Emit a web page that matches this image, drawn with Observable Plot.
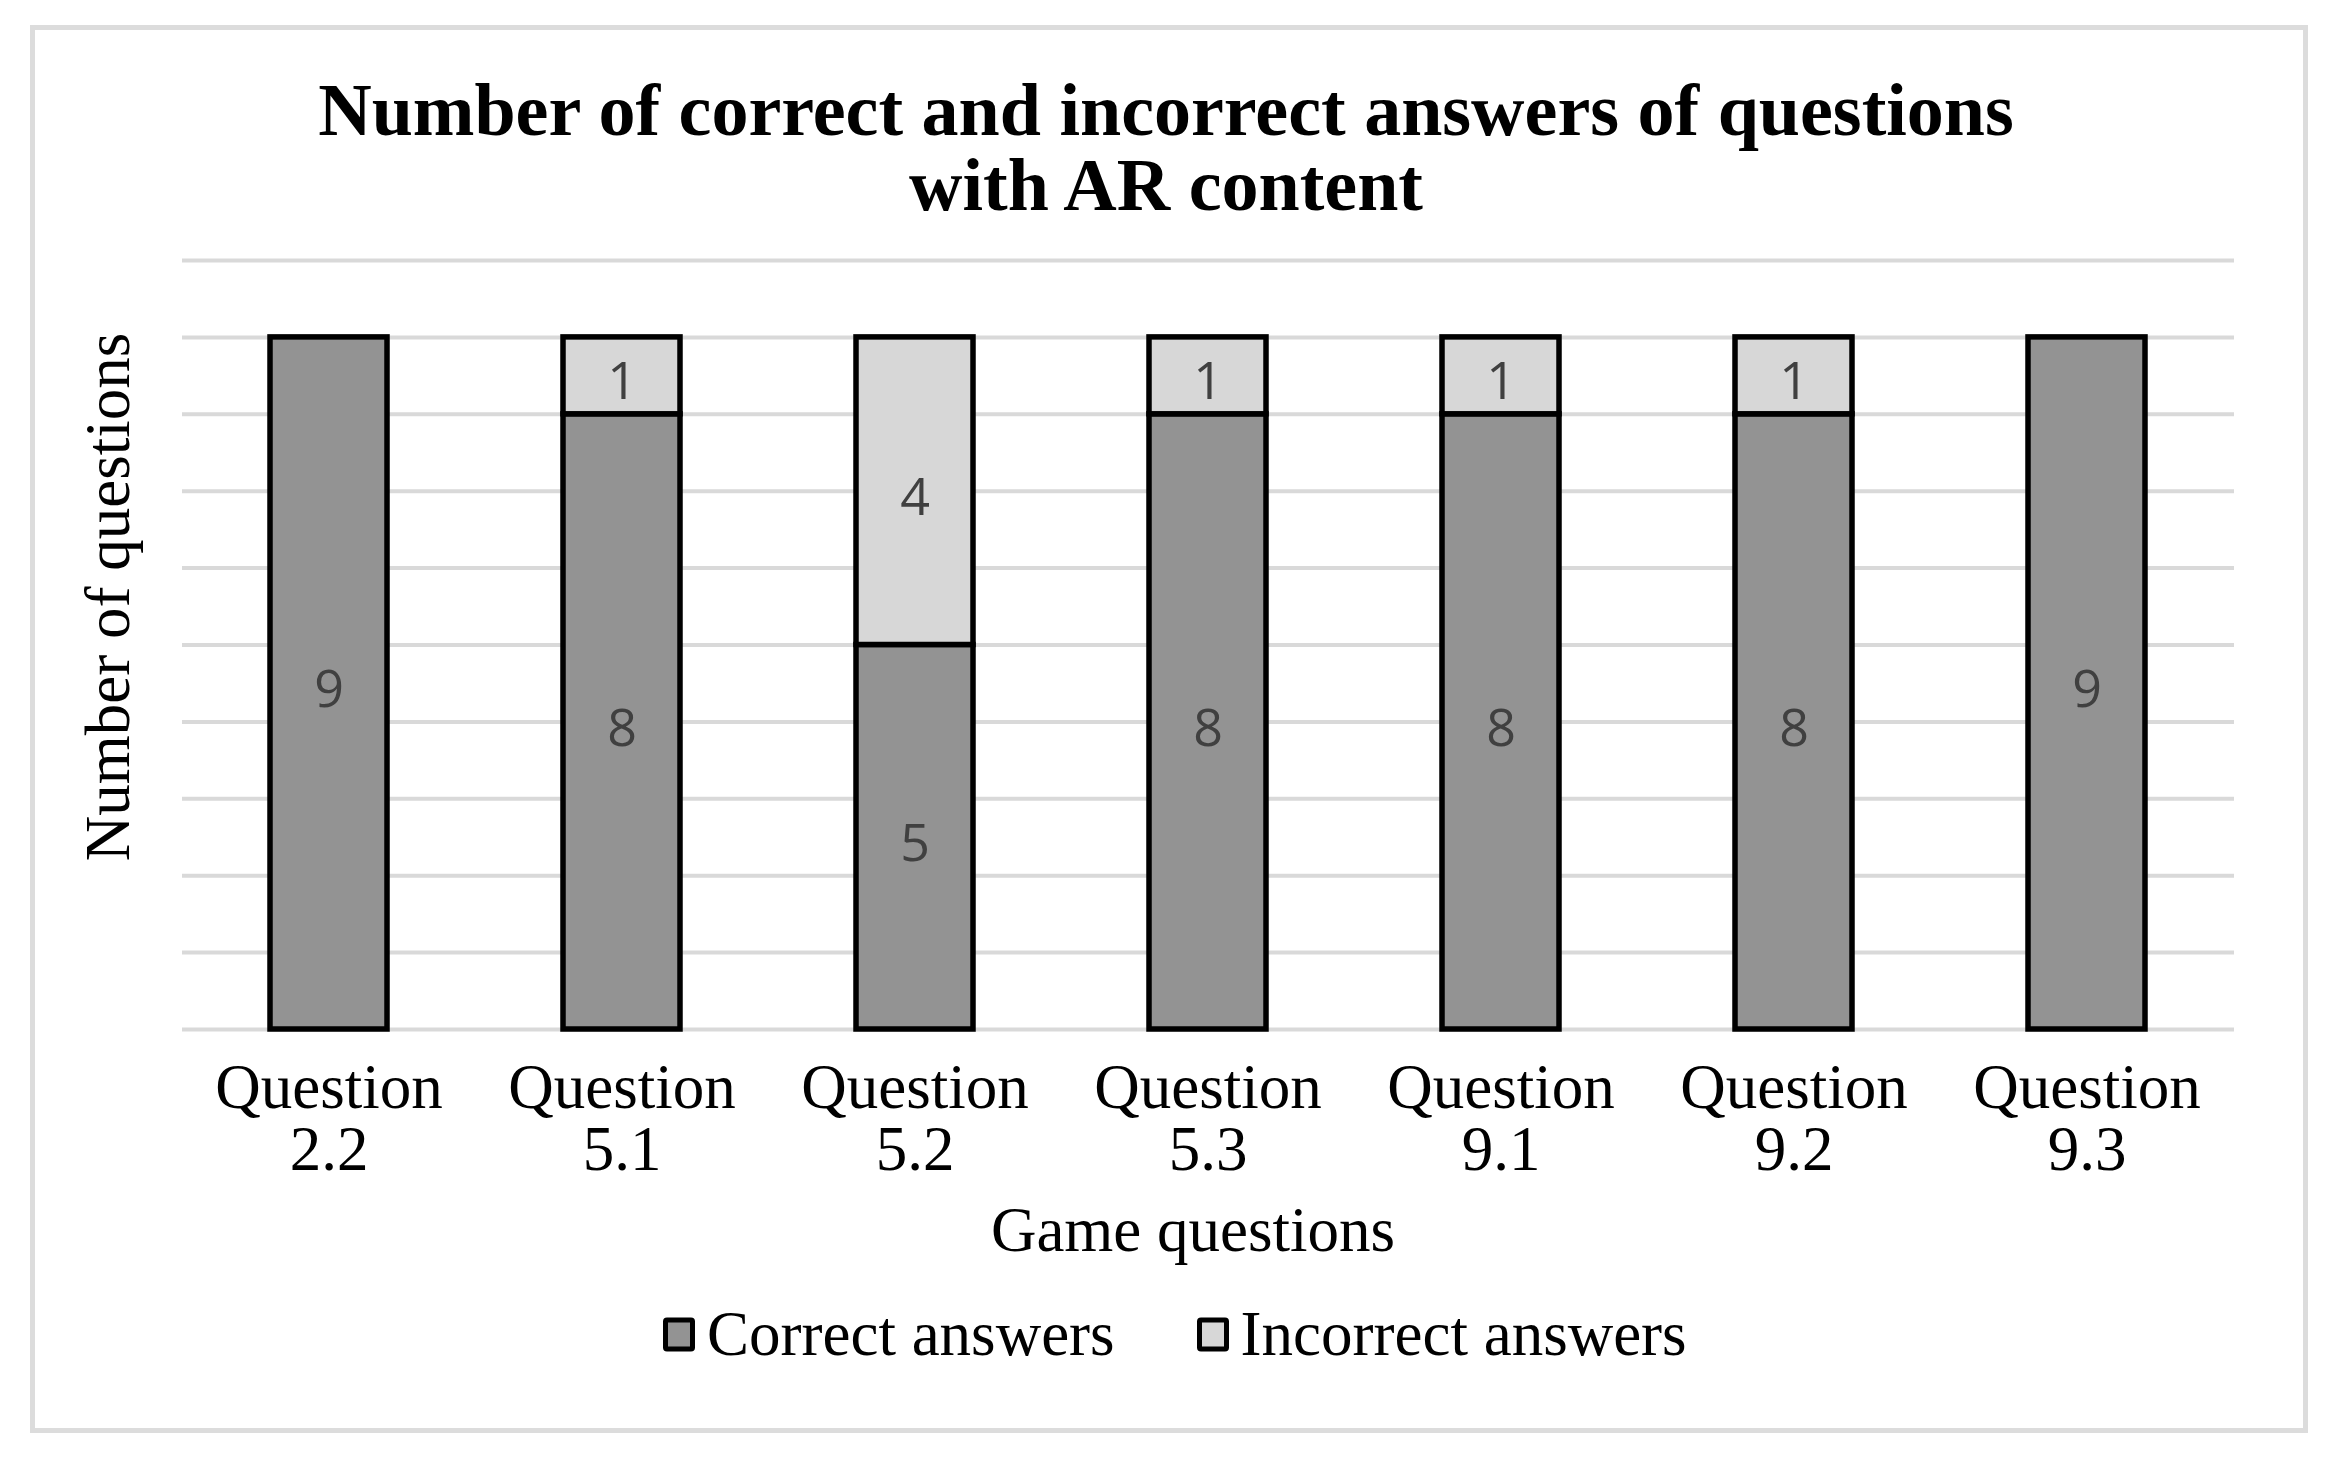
<!DOCTYPE html>
<html>
<head>
<meta charset="utf-8">
<script src="https://cdn.jsdelivr.net/npm/d3@7"></script>
<script src="https://cdn.jsdelivr.net/npm/@observablehq/plot@0.6"></script>
<style>
  html, body { margin: 0; padding: 0; background: #fff; }
  body { width: 2344px; height: 1463px; position: relative; overflow: hidden; font-family: "Liberation Serif", "DejaVu Serif", serif; color: #000; }
  #frame { position: absolute; left: 30px; top: 25px; width: 2278px; height: 1408px; border: 5px solid #dcdcdc; box-sizing: border-box; }
  #title { position: absolute; left: 0; width: 2332px; top: 73px; text-align: center; font-weight: bold; font-size: 74px; line-height: 75px; }
  #chart { position: absolute; left: 0; top: 230px; }
  #ylabel { position: absolute; left: 108px; top: 597px; transform: translate(-50%, -50%) rotate(-90deg); font-size: 63px; line-height: 1; white-space: nowrap; }
  #xlabel { position: absolute; left: 1193px; top: 1230px; transform: translate(-50%, -50%); font-size: 63px; line-height: 1; white-space: nowrap; }
  #legend { position: absolute; left: 663px; top: 1334px; transform: translateY(-50%); display: flex; align-items: center; font-size: 63px; line-height: 1; white-space: nowrap; }
  .item { display: flex; align-items: center; }
  .item + .item { margin-left: 82px; }
  .sw { width: 32px; height: 34px; border: 5px solid #000; border-radius: 4px; box-sizing: border-box; margin-right: 12px; }
</style>
</head>
<body>
<div id="frame"></div>
<div id="title"></div>
<div id="chart"></div>
<div id="ylabel"></div>
<div id="xlabel"></div>
<div id="legend"></div>
<script>
// ---- data ----
const categories = ["Question 2.2", "Question 5.1", "Question 5.2", "Question 5.3", "Question 9.1", "Question 9.2", "Question 9.3"];
const correctAnswers = [9, 8, 5, 8, 8, 8, 9];
const incorrectAnswers = [0, 1, 4, 1, 1, 1, 0];
const seriesNames = ["Correct answers", "Incorrect answers"];
const seriesColors = ["#939393", "#d7d7d7"];
const yTicks = [0, 1, 2, 3, 4, 5, 6, 7, 8, 9, 10];
const titleLines = ["Number of correct and incorrect answers of questions", "with AR content"];
const yTitle = "Number of questions";
const xTitle = "Game questions";

// ---- build table ----
const rows = [];
categories.forEach((q, i) => {
  rows.push({q, series: seriesNames[0], value: correctAnswers[i]});
  rows.push({q, series: seriesNames[1], value: incorrectAnswers[i]});
});
const visible = rows.filter(d => d.value > 0);

const chart = Plot.plot({
  width: 2344,
  height: 1040,
  marginLeft: 182,
  marginRight: 110,
  marginTop: 30,
  marginBottom: 241,
  style: {background: "transparent", fontFamily: "'Liberation Serif', serif", color: "#000", overflow: "visible"},
  x: {domain: categories, paddingInner: 0.6, paddingOuter: 0.3},
  y: {domain: [0, 10]},
  color: {domain: seriesNames, range: seriesColors},
  marks: [
    Plot.ruleY(yTicks, {stroke: "#d9d9d9", strokeWidth: 4}),
    Plot.barY(visible, {x: "q", y: "value", fill: "series", stroke: "#000", strokeWidth: 5.5, order: seriesNames}),
    Plot.text(visible, Plot.stackY({
      x: "q", y: "value", z: "series", order: seriesNames,
      text: d => String(d.value), dy: 7,
      fill: "#404040", fontFamily: "'Open Sans', 'Liberation Sans', sans-serif", fontSize: 52
    })),
    Plot.axisX({
      tickSize: 0, tickPadding: 34, label: null,
      tickFormat: d => d.replace(" ", "\n"),
      fontSize: 63, lineHeight: 0.99, fill: "#000"
    }),
    Plot.axisY({ticks: [], label: null, tickSize: 0})
  ]
});
document.getElementById("chart").appendChild(chart);

document.getElementById("title").innerHTML = titleLines.join("<br>");
document.getElementById("ylabel").textContent = yTitle;
document.getElementById("xlabel").textContent = xTitle;

const legend = document.getElementById("legend");
seriesNames.forEach((name, i) => {
  const item = document.createElement("div");
  item.className = "item";
  const sw = document.createElement("div");
  sw.className = "sw";
  sw.style.background = seriesColors[i];
  const label = document.createElement("span");
  label.textContent = name;
  item.appendChild(sw);
  item.appendChild(label);
  legend.appendChild(item);
});
</script>
</body>
</html>
